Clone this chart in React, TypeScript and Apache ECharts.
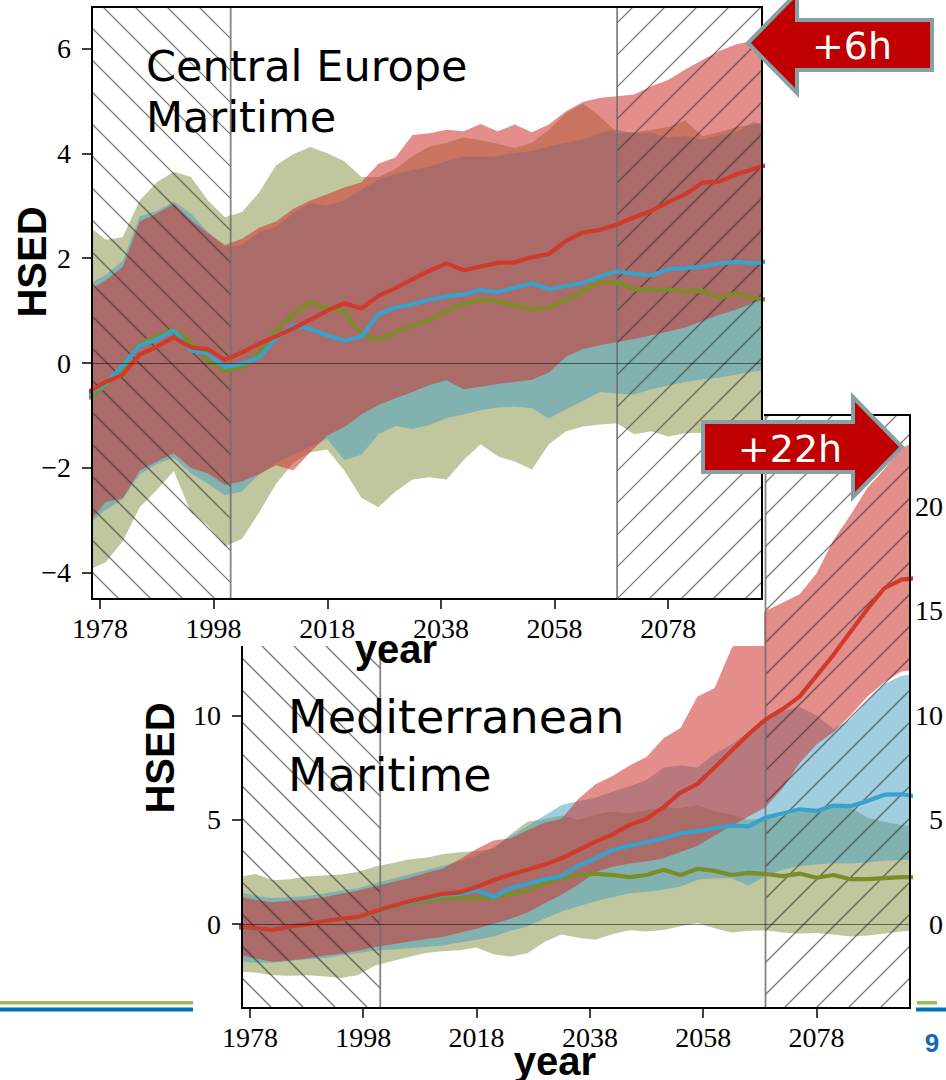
import React, { useEffect, useRef } from "react";
import * as echarts from "echarts";

// ---------- shared axis data ----------
const YEARS = [1976, 1979, 1982, 1985, 1988, 1991, 1994, 1997, 2000, 2003, 2006, 2009, 2012, 2015, 2018, 2021, 2024, 2027, 2030, 2033, 2036, 2039, 2042, 2045, 2048, 2051, 2054, 2057, 2060, 2063, 2066, 2069, 2072, 2075, 2078, 2081, 2084, 2087, 2090, 2093, 2096];
const X_MIN = 1976.6;
const X_MAX = 2094.5;
const X_TICKS = [1978, 1998, 2018, 2038, 2058, 2078];
const REF_END = 2001;
const FUT_START = 2069;

// ---------- Central Europe Maritime ----------
const CE_Y_MIN = -4.5;
const CE_Y_MAX = 6.79;
const CE_Y_TICKS = [-4, -2, 0, 2, 4, 6];
const CE_RED_LINE = [-0.55, -0.36, -0.22, 0.16, 0.31, 0.49, 0.30, 0.26, 0.06, 0.20, 0.37, 0.51, 0.66, 0.83, 1.00, 1.14, 1.04, 1.28, 1.43, 1.60, 1.76, 1.90, 1.77, 1.84, 1.91, 1.92, 2.02, 2.08, 2.33, 2.49, 2.54, 2.64, 2.78, 2.90, 3.07, 3.22, 3.44, 3.46, 3.60, 3.70, 3.80];
const CE_BLUE_LINE = [-0.60, -0.40, -0.05, 0.33, 0.45, 0.62, 0.24, 0.18, -0.08, -0.01, 0.10, 0.47, 0.72, 0.65, 0.53, 0.43, 0.50, 0.93, 1.06, 1.12, 1.21, 1.27, 1.31, 1.39, 1.35, 1.44, 1.52, 1.41, 1.47, 1.53, 1.65, 1.75, 1.70, 1.67, 1.79, 1.81, 1.84, 1.90, 1.93, 1.90, 1.95];
const CE_OLIVE_LINE = [-0.67, -0.44, -0.10, 0.37, 0.51, 0.64, 0.40, 0.04, -0.15, -0.08, 0.20, 0.62, 0.95, 1.16, 1.05, 0.98, 0.55, 0.44, 0.59, 0.72, 0.81, 1.00, 1.13, 1.20, 1.18, 1.10, 1.02, 1.06, 1.20, 1.37, 1.55, 1.54, 1.41, 1.40, 1.40, 1.36, 1.38, 1.24, 1.33, 1.24, 1.20];
const CE_RED_HI = [1.38, 1.58, 1.83, 2.70, 2.85, 3.04, 2.73, 2.48, 2.25, 2.37, 2.58, 2.70, 2.94, 3.10, 3.22, 3.35, 3.45, 3.80, 3.92, 4.35, 4.38, 4.45, 4.42, 4.56, 4.42, 4.55, 4.40, 4.55, 4.80, 4.98, 5.06, 5.09, 5.12, 5.28, 5.40, 5.60, 5.78, 5.95, 6.08, 6.14, 6.11];
const CE_RED_LO = [-3.05, -2.65, -2.58, -2.05, -1.88, -1.72, -2.00, -2.10, -2.32, -2.26, -2.12, -1.95, -2.05, -1.70, -1.38, -1.22, -0.98, -0.80, -0.67, -0.55, -0.42, -0.33, -0.50, -0.45, -0.40, -0.36, -0.32, -0.18, 0.12, 0.27, 0.34, 0.40, 0.46, 0.53, 0.60, 0.68, 0.80, 0.92, 1.02, 1.15, 1.25];
const CE_BLUE_HI = [1.50, 1.68, 1.95, 2.80, 2.90, 3.08, 2.85, 2.50, 2.22, 2.25, 2.50, 2.60, 2.85, 3.05, 3.00, 3.10, 3.30, 3.50, 3.60, 3.68, 3.75, 3.85, 3.94, 3.93, 3.95, 4.00, 4.05, 4.13, 4.20, 4.26, 4.39, 4.45, 4.38, 4.39, 4.30, 4.33, 4.26, 4.35, 4.40, 4.60, 4.52];
const CE_BLUE_LO = [-3.08, -2.80, -2.60, -2.12, -1.93, -1.80, -2.10, -2.30, -2.52, -2.45, -2.12, -1.90, -1.75, -1.60, -1.45, -1.85, -1.75, -1.36, -1.20, -1.26, -1.18, -1.05, -0.98, -0.90, -0.85, -0.83, -0.86, -1.06, -0.88, -0.72, -0.55, -0.58, -0.60, -0.50, -0.43, -0.36, -0.31, -0.28, -0.22, -0.16, -0.12];
const CE_OLIVE_HI = [2.62, 2.35, 2.40, 3.10, 3.45, 3.65, 3.55, 3.10, 2.78, 2.88, 3.25, 3.77, 3.98, 4.12, 4.00, 3.85, 3.55, 3.55, 3.70, 3.95, 4.13, 4.20, 4.30, 4.25, 4.18, 4.10, 4.20, 4.45, 4.77, 4.95, 4.70, 4.39, 4.40, 4.45, 4.50, 4.62, 4.33, 4.40, 4.50, 4.55, 4.58];
const CE_OLIVE_LO = [-3.95, -3.80, -3.40, -2.75, -2.42, -2.06, -2.85, -3.10, -3.50, -3.35, -2.85, -2.30, -1.90, -1.70, -1.65, -2.05, -2.57, -2.75, -2.45, -2.22, -2.18, -2.22, -1.85, -1.55, -1.78, -1.88, -2.03, -1.55, -1.30, -1.21, -1.17, -1.15, -1.36, -1.30, -1.40, -1.34, -1.33, -1.30, -1.25, -1.18, -1.15];

// ---------- Mediterranean Maritime ----------
const MM_Y_MIN = -4.02;
const MM_Y_MAX = 24.39;
const MM_Y_TICKS = [0, 5, 10, 15, 20];
const MM_RED_LINE = [-0.12, -0.20, -0.28, -0.12, 0.00, 0.15, 0.25, 0.33, 0.60, 0.85, 1.08, 1.26, 1.45, 1.52, 1.78, 2.10, 2.38, 2.60, 2.85, 3.15, 3.55, 3.95, 4.30, 4.75, 5.05, 5.60, 6.30, 6.72, 7.50, 8.30, 9.10, 9.80, 10.30, 10.90, 11.90, 12.90, 14.00, 15.10, 16.10, 16.50, 16.60];
const MM_BLUE_LINE = [-0.14, -0.22, -0.27, -0.10, 0.03, 0.16, 0.24, 0.30, 0.58, 0.83, 1.05, 1.22, 1.40, 1.45, 1.62, 1.30, 1.72, 1.93, 2.15, 2.30, 2.80, 3.15, 3.55, 3.75, 3.92, 4.10, 4.35, 4.45, 4.60, 4.72, 4.68, 5.10, 5.30, 5.50, 5.42, 5.68, 5.65, 5.90, 6.20, 6.22, 6.10];
const MM_OLIVE_LINE = [-0.16, -0.24, -0.27, -0.13, 0.00, 0.13, 0.22, 0.28, 0.55, 0.80, 1.00, 1.12, 1.25, 1.24, 1.20, 1.28, 1.45, 1.60, 1.95, 2.20, 2.35, 2.42, 2.35, 2.25, 2.35, 2.60, 2.35, 2.65, 2.55, 2.35, 2.45, 2.40, 2.30, 2.42, 2.22, 2.35, 2.15, 2.15, 2.20, 2.25, 2.25];
const MM_RED_HI = [1.35, 1.15, 1.05, 1.12, 1.18, 1.28, 1.45, 1.60, 1.80, 2.00, 2.20, 2.45, 2.65, 3.10, 3.60, 4.00, 4.10, 4.50, 4.85, 5.05, 6.00, 6.70, 7.10, 7.60, 8.00, 8.90, 9.40, 10.90, 11.30, 13.20, 14.20, 15.00, 15.40, 15.80, 16.80, 18.40, 19.60, 20.90, 21.80, 22.80, 23.20];
const MM_RED_LO = [-1.45, -1.65, -1.80, -1.75, -1.65, -1.52, -1.42, -1.28, -1.10, -0.98, -0.85, -0.72, -0.62, -0.42, -0.22, 0.02, 0.25, 0.55, 1.00, 1.40, 1.90, 2.50, 2.75, 2.90, 3.00, 3.15, 3.45, 3.75, 4.25, 4.70, 5.15, 5.60, 6.50, 7.70, 8.60, 9.20, 10.00, 10.90, 11.60, 12.10, 12.20];
const MM_BLUE_HI = [1.55, 1.35, 1.25, 1.28, 1.35, 1.45, 1.60, 1.72, 1.95, 2.15, 2.38, 2.58, 2.78, 3.02, 3.28, 3.70, 4.20, 4.70, 5.20, 5.70, 5.90, 6.05, 6.35, 6.60, 6.90, 7.50, 7.60, 7.50, 8.15, 8.60, 9.20, 9.70, 10.20, 10.40, 10.00, 9.35, 9.80, 10.70, 11.50, 11.90, 12.00];
const MM_BLUE_LO = [-1.80, -1.85, -1.85, -1.76, -1.70, -1.62, -1.50, -1.38, -1.27, -1.22, -1.16, -1.10, -1.03, -0.88, -0.75, -0.60, -0.32, -0.10, 0.25, 0.60, 0.85, 1.10, 1.30, 1.48, 1.55, 1.65, 1.80, 2.12, 2.20, 2.20, 1.85, 2.30, 2.60, 2.78, 2.85, 2.92, 2.90, 2.95, 3.05, 3.07, 3.07];
const MM_OLIVE_HI = [2.25, 2.40, 2.10, 2.15, 2.28, 2.33, 2.38, 2.50, 2.75, 2.92, 3.10, 3.18, 3.35, 3.44, 3.50, 3.60, 4.30, 4.90, 5.05, 5.20, 5.00, 5.25, 5.40, 5.30, 5.45, 5.60, 5.55, 5.70, 5.40, 5.25, 5.00, 5.05, 5.15, 5.40, 5.35, 5.60, 5.60, 5.10, 4.90, 4.75, 4.65];
const MM_OLIVE_LO = [-2.28, -2.32, -2.45, -2.48, -2.45, -2.50, -2.58, -2.45, -2.00, -1.78, -1.58, -1.38, -1.30, -1.25, -1.12, -1.45, -1.55, -1.40, -0.85, -0.50, -0.65, -0.75, -0.48, -0.30, -0.35, -0.28, -0.10, 0.05, -0.20, -0.40, -0.32, -0.30, -0.40, -0.45, -0.43, -0.50, -0.60, -0.55, -0.45, -0.35, -0.28];

// ---------- styles ----------
const BAND_OLIVE = "rgba(130,142,62,0.5)";
const BAND_BLUE = "rgba(68,158,192,0.5)";
const BAND_RED = "rgba(205,50,45,0.55)";
const LINE_RED = "#d03a2a";
const LINE_BLUE = "#38a2cc";
const LINE_OLIVE = "#7b8c28";
const HATCH = "rgba(40,40,40,0.62)";
const BOUNDARY = "rgba(110,110,110,0.85)";
const SERIF = '"Liberation Serif", "Times New Roman", serif';
const SANS = '"Liberation Sans", Arial, sans-serif';
const TITLE_FONT = '"DejaVu Sans", Verdana, sans-serif';

const fmtMinus = (v: number) => (v < 0 ? "\u2212" + Math.abs(v) : String(v));

// keep only the part of a band inside [X_MIN, X_MAX], with end points on the edges
function clipBand(lo: number[], hi: number[]) {
  const out: number[][] = [];
  const lerp = (a: number, b: number, t: number) => a + (b - a) * t;
  for (let i = 0; i < YEARS.length; i++) {
    const x = YEARS[i];
    if (x >= X_MIN && x <= X_MAX) {
      if (out.length === 0 && i > 0) {
        const t = (X_MIN - YEARS[i - 1]) / (x - YEARS[i - 1]);
        out.push([X_MIN, lerp(lo[i - 1], lo[i], t), lerp(hi[i - 1], hi[i], t)]);
      }
      out.push([x, lo[i], hi[i]]);
    } else if (x > X_MAX && i > 0 && YEARS[i - 1] <= X_MAX) {
      const t = (X_MAX - YEARS[i - 1]) / (x - YEARS[i - 1]);
      out.push([X_MAX, lerp(lo[i - 1], lo[i], t), lerp(hi[i - 1], hi[i], t)]);
    }
  }
  return out;
}

function bandSeries(name: string, lo: number[], hi: number[], color: string) {
  return {
    type: "custom",
    name,
    silent: true,
    z: 2,
    data: YEARS.map((y, i) => [y, lo[i], hi[i]]),
    encode: { x: 0, y: [1, 2] },
    renderItem: (params: any, api: any) => {
      if (params.dataIndex !== 0) return null;
      const pts = clipBand(lo, hi);
      const upper = pts.map((p) => api.coord([p[0], p[2]]));
      const lower = pts.map((p) => api.coord([p[0], p[1]])).reverse();
      return {
        type: "polygon",
        shape: { points: upper.concat(lower) },
        style: { fill: color, stroke: null },
      };
    },
  };
}

function hatchSeries() {
  return {
    type: "custom",
    silent: true,
    z: 3,
    data: [[REF_END, 0]],
    renderItem: (params: any, api: any) => {
      if (params.dataIndex !== 0) return null;
      const cs = params.coordSys;
      const L = cs.x, R = cs.x + cs.width, T = cs.y, B = cs.y + cs.height;
      const xr = api.coord([REF_END, 0])[0];
      const xf = api.coord([FUT_START, 0])[0];
      const sp = 32;
      const st = { stroke: HATCH, lineWidth: 1.3, fill: null };
      const kids: any[] = [];
      for (let c = Math.floor((T - xr) / sp) * sp; c <= B - L; c += sp) {
        const xa = Math.max(L, T - c);
        const xb = Math.min(xr, B - c);
        if (xb > xa) kids.push({ type: "line", shape: { x1: xa, y1: xa + c, x2: xb, y2: xb + c }, style: st });
      }
      for (let c = Math.floor((xf + T) / sp) * sp; c <= R + B; c += sp) {
        const xa = Math.max(xf, c - B);
        const xb = Math.min(R, c - T);
        if (xb > xa) kids.push({ type: "line", shape: { x1: xa, y1: c - xa, x2: xb, y2: c - xb }, style: st });
      }
      kids.push({ type: "line", shape: { x1: xr, y1: T, x2: xr, y2: B }, style: { stroke: BOUNDARY, lineWidth: 1.8 } });
      kids.push({ type: "line", shape: { x1: xf, y1: T, x2: xf, y2: B }, style: { stroke: BOUNDARY, lineWidth: 1.8 } });
      return { type: "group", children: kids };
    },
  };
}

function lineSeries(name: string, vals: number[], color: string, withZero: boolean) {
  const s: any = {
    type: "line",
    name,
    data: YEARS.map((y, i) => [y, vals[i]]),
    symbol: "none",
    showSymbol: false,
    silent: true,
    z: 4,
    emphasis: { disabled: true },
    lineStyle: { color, width: 4.2 },
    itemStyle: { color },
  };
  if (withZero) {
    s.markLine = {
      silent: true,
      symbol: "none",
      label: { show: false },
      lineStyle: { color: "rgba(0,0,0,0.5)", width: 1, type: "solid" },
      data: [{ yAxis: 0 }],
    };
  }
  return s;
}

type Cfg = {
  grid: { left: number; top: number; width: number; height: number };
  yMin: number;
  yMax: number;
  yTicks: number[];
  rightTicks?: number[];
  olive: [number[], number[], number[]];
  blue: [number[], number[], number[]];
  red: [number[], number[], number[]];
  graphics: any[];
  background: string;
};

function buildOption(c: Cfg) {
  const labelStyle = { fontFamily: SERIF, fontSize: 28, color: "#000" };
  const tickStyle = { color: "#000", width: 1.5 };
  const yAxes: any[] = [
    {
      type: "value",
      min: c.yMin,
      max: c.yMax,
      axisLine: { show: false, onZero: false },
      splitLine: { show: false },
      axisTick: { show: true, customValues: c.yTicks, length: 10, lineStyle: tickStyle },
      axisLabel: { customValues: c.yTicks, margin: 21, formatter: fmtMinus, ...labelStyle },
      z: 10,
    },
  ];
  if (c.rightTicks) {
    yAxes.push({
      type: "value",
      position: "right",
      min: c.yMin,
      max: c.yMax,
      axisLine: { show: false, onZero: false },
      splitLine: { show: false },
      axisTick: { show: false },
      axisLabel: { customValues: c.rightTicks, margin: 33, align: "right", formatter: fmtMinus, ...labelStyle },
      z: 10,
    });
  }
  return {
    animation: false,
    backgroundColor: c.background,
    grid: {
      ...c.grid,
      show: true,
      borderColor: "#000",
      borderWidth: 2,
      backgroundColor: "transparent",
      z: 20,
      containLabel: false,
    },
    xAxis: {
      type: "value",
      min: X_MIN,
      max: X_MAX,
      axisLine: { show: false, onZero: false },
      splitLine: { show: false },
      axisTick: { show: true, customValues: X_TICKS, length: 10, lineStyle: tickStyle },
      axisLabel: { customValues: X_TICKS, margin: 15, formatter: (v: number) => String(v), ...labelStyle },
      z: 10,
    },
    yAxis: yAxes,
    series: [
      bandSeries("olive band", c.olive[1], c.olive[2], BAND_OLIVE),
      bandSeries("blue band", c.blue[1], c.blue[2], BAND_BLUE),
      bandSeries("red band", c.red[1], c.red[2], BAND_RED),
      hatchSeries(),
      lineSeries("olive mean", c.olive[0], LINE_OLIVE, true),
      lineSeries("blue mean", c.blue[0], LINE_BLUE, false),
      lineSeries("red mean", c.red[0], LINE_RED, false),
    ],
    graphic: c.graphics,
  };
}

const txt = (text: string, x: number, y: number, size: number, opts: any = {}) => ({
  type: "text",
  x,
  y,
  z: 100,
  rotation: opts.rotation || 0,
  style: {
    text,
    fontSize: size,
    fontFamily: opts.font || TITLE_FONT,
    fontWeight: opts.weight || "normal",
    fill: opts.fill || "#000",
    align: opts.align || "left",
    verticalAlign: "middle",
  },
});

const arrowStyle = { fill: "#c00000", stroke: "#86a0a4", lineWidth: 4, lineJoin: "miter" };

export default function App() {
  const bottomRef = useRef<HTMLDivElement>(null);
  const topRef = useRef<HTMLDivElement>(null);

  useEffect(() => {
    const bottom = echarts.init(bottomRef.current!, undefined, { renderer: "svg" });
    bottom.setOption(
      buildOption({
        grid: { left: 242, top: 415, width: 670, height: 593 },
        yMin: MM_Y_MIN,
        yMax: MM_Y_MAX,
        yTicks: MM_Y_TICKS,
        rightTicks: MM_Y_TICKS,
        olive: [MM_OLIVE_LINE, MM_OLIVE_LO, MM_OLIVE_HI],
        blue: [MM_BLUE_LINE, MM_BLUE_LO, MM_BLUE_HI],
        red: [MM_RED_LINE, MM_RED_LO, MM_RED_HI],
        background: "#ffffff",
        graphics: [
          txt("Mediterranean", 288, 717, 46),
          txt("Maritime", 288, 775, 46),
          txt("HSED", 160, 758, 40, { font: SANS, weight: "bold", align: "center", rotation: Math.PI / 2 }),
          txt("year", 555, 1061, 40, { font: SANS, weight: "bold", align: "center" }),
          { type: "rect", z: 100, shape: { x: 0, y: 1001, width: 193, height: 3.5 }, style: { fill: "#9bbb59" } },
          { type: "rect", z: 100, shape: { x: 0, y: 1007.5, width: 193, height: 4 }, style: { fill: "#0070c0" } },
          { type: "rect", z: 100, shape: { x: 917, y: 1001, width: 20, height: 3.5 }, style: { fill: "#9bbb59" } },
          { type: "rect", z: 100, shape: { x: 916, y: 1007.5, width: 30, height: 4 }, style: { fill: "#0070c0" } },
          txt("9", 932, 1043, 26, { font: SANS, weight: "bold", align: "center", fill: "#1565b8" }),
        ],
      })
    );

    const top = echarts.init(topRef.current!, undefined, { renderer: "svg" });
    top.setOption(
      buildOption({
        grid: { left: 92, top: 7, width: 670, height: 592 },
        yMin: CE_Y_MIN,
        yMax: CE_Y_MAX,
        yTicks: CE_Y_TICKS,
        olive: [CE_OLIVE_LINE, CE_OLIVE_LO, CE_OLIVE_HI],
        blue: [CE_BLUE_LINE, CE_BLUE_LO, CE_BLUE_HI],
        red: [CE_RED_LINE, CE_RED_LO, CE_RED_HI],
        background: "transparent",
        graphics: [
          { type: "rect", z: 0, shape: { x: 0, y: 0, width: 764, height: 646 }, style: { fill: "#ffffff" } },
          txt("Central Europe", 146, 66, 43),
          txt("Maritime", 146, 117, 43),
          txt("HSED", 32, 262, 40, { font: SANS, weight: "bold", align: "center", rotation: Math.PI / 2 }),
          txt("year", 396, 649, 40, { font: SANS, weight: "bold", align: "center" }),
          {
            type: "polygon",
            z: 100,
            shape: { points: [[748, 43], [797, -7], [797, 20], [932, 20], [932, 70], [797, 70], [797, 93]] },
            style: arrowStyle,
          },
          txt("+6h", 852, 46, 38, { fill: "#ffffff", align: "center" }),
          {
            type: "polygon",
            z: 100,
            shape: { points: [[703, 422], [853, 422], [853, 397], [902, 447], [853, 497], [853, 472], [703, 472]] },
            style: arrowStyle,
          },
          txt("+22h", 790, 449, 38, { fill: "#ffffff", align: "center" }),
        ],
      })
    );

    return () => {
      bottom.dispose();
      top.dispose();
    };
  }, []);

  return (
    <div style={{ position: "absolute", left: 0, top: 0, width: 946, height: 1080, background: "#fff", overflow: "hidden" }}>
      <div ref={bottomRef} style={{ position: "absolute", left: 0, top: 0, width: 946, height: 1080 }} />
      <div ref={topRef} style={{ position: "absolute", left: 0, top: 0, width: 946, height: 1080 }} />
    </div>
  );
}
